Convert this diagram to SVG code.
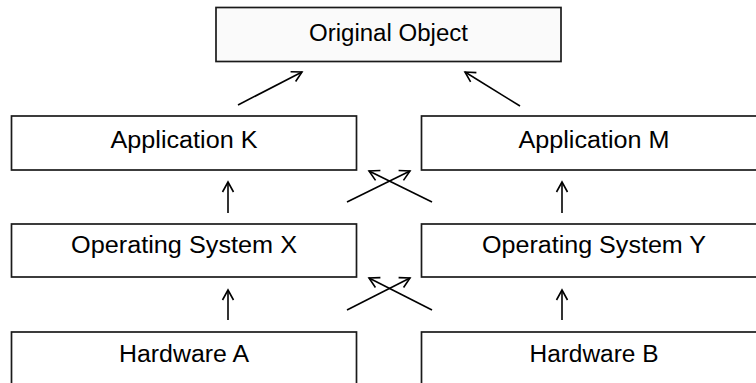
<svg xmlns="http://www.w3.org/2000/svg" width="756" height="383" viewBox="0 0 756 383">
<style>
.box{fill:#ffffff;stroke:#1a1a1a;stroke-width:1.7}
.top{fill:#fafafa}
.lbl{font-family:"Liberation Sans",Arial,sans-serif;font-size:23px;fill:#000;text-anchor:middle}
.conn line{stroke:#000;stroke-width:1.6;marker-end:url(#ah)}
</style>
<defs>
<marker id="ah" markerUnits="userSpaceOnUse" markerWidth="14" markerHeight="14" refX="11" refY="6" orient="auto" viewBox="0 0 14 12">
<path d="M1,0.5 L11,6 L1,11.5" fill="none" stroke="#000" stroke-width="1.6"/>
</marker>
</defs>
<rect width="756" height="383" fill="#ffffff"/>
<g id="original-object"><rect class="box top" x="216" y="7.5" width="345" height="54"/><text class="lbl" x="388.5" y="41" textLength="159" lengthAdjust="spacingAndGlyphs">Original Object</text></g>
<g id="application-k"><rect class="box" x="11.5" y="116" width="345" height="54"/><text class="lbl" x="184" y="148" textLength="147" lengthAdjust="spacingAndGlyphs">Application K</text></g>
<g id="application-m"><rect class="box" x="421.5" y="116" width="345" height="54"/><text class="lbl" x="594" y="148" textLength="151" lengthAdjust="spacingAndGlyphs">Application M</text></g>
<g id="os-x"><rect class="box" x="11.5" y="224" width="345" height="53"/><text class="lbl" x="184" y="253" textLength="226" lengthAdjust="spacingAndGlyphs">Operating System X</text></g>
<g id="os-y"><rect class="box" x="421.5" y="224" width="345" height="53"/><text class="lbl" x="594" y="253" textLength="224" lengthAdjust="spacingAndGlyphs">Operating System Y</text></g>
<g id="hardware-a"><rect class="box" x="11.5" y="332" width="345" height="60"/><text class="lbl" x="184" y="362" textLength="130" lengthAdjust="spacingAndGlyphs">Hardware A</text></g>
<g id="hardware-b"><rect class="box" x="421.5" y="332" width="345" height="60"/><text class="lbl" x="594" y="362" textLength="129" lengthAdjust="spacingAndGlyphs">Hardware B</text></g>
<g id="connectors" class="conn">
<line x1="238" y1="105" x2="302" y2="72"/>
<line x1="520" y1="106" x2="465" y2="72"/>
<line x1="228" y1="213" x2="228" y2="182"/>
<line x1="562" y1="213" x2="562" y2="182"/>
<line x1="347" y1="202" x2="410" y2="171"/>
<line x1="432" y1="202" x2="369" y2="171"/>
<line x1="228" y1="320" x2="228" y2="290"/>
<line x1="562" y1="320" x2="562" y2="290"/>
<line x1="347" y1="310" x2="410" y2="278"/>
<line x1="432" y1="310" x2="369" y2="278"/>
</g>
</svg>
